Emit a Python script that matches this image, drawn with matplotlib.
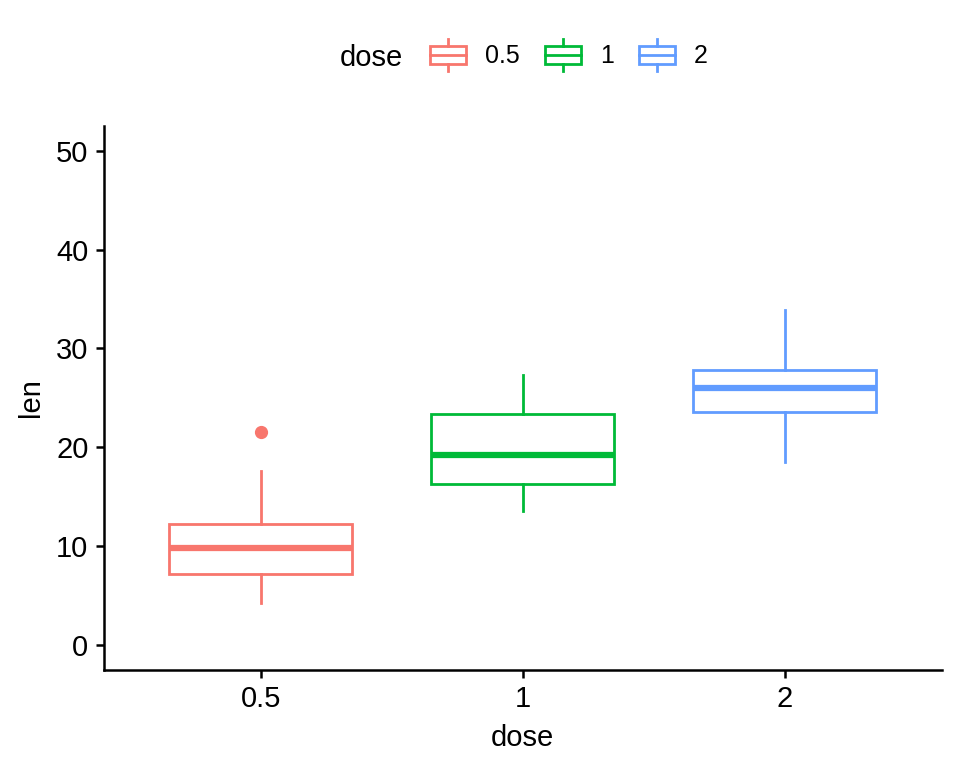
import numpy as np
import matplotlib
matplotlib.use("Agg")
import matplotlib.pyplot as plt
from matplotlib.legend_handler import HandlerBase
from matplotlib.patches import Rectangle
from matplotlib.lines import Line2D

plt.rcParams['font.family'] = ['Liberation Sans', 'DejaVu Sans']

# ToothGrowth lengths grouped by dose
doses = ["0.5", "1", "2"]
len_05 = [4.2, 11.5, 7.3, 5.8, 6.4, 10, 11.2, 11.2, 5.2, 7,
          15.2, 21.5, 17.6, 9.7, 14.5, 10, 8.2, 9.4, 16.5, 9.7]
len_1 = [16.5, 16.5, 15.2, 17.3, 22.5, 17.3, 13.6, 14.5, 18.8, 15.5,
         19.7, 23.3, 23.6, 26.4, 20, 25.2, 25.8, 21.2, 14.5, 27.3]
len_2 = [23.6, 18.5, 33.9, 25.5, 26.4, 32.5, 26.7, 21.5, 23.3, 29.5,
         25.5, 26.4, 22.4, 24.5, 24.8, 30.9, 26.4, 27.3, 29.4, 23]
groups = [len_05, len_1, len_2]
colors = ["#F8766D", "#00BA38", "#619CFF"]
y_ticks = [0, 10, 20, 30, 40, 50]

LW = 2.0


class BoxKeyHandler(HandlerBase):
    """Draws a small boxplot glyph as legend key."""
    def __init__(self, color):
        super().__init__()
        self.color = color

    def create_artists(self, legend, orig_handle, xdescent, ydescent,
                       width, height, fontsize, trans):
        c = self.color
        x0, y0 = -xdescent, -ydescent
        box = Rectangle((x0, y0 + height * 0.22), width, height * 0.56,
                        facecolor="white", edgecolor=c, lw=LW, transform=trans)
        mid = Line2D([x0, x0 + width], [y0 + height * 0.5] * 2, color=c, lw=LW, transform=trans)
        top = Line2D([x0 + width / 2] * 2, [y0 + height * 0.78, y0 + height], color=c, lw=LW, transform=trans)
        bot = Line2D([x0 + width / 2] * 2, [y0, y0 + height * 0.22], color=c, lw=LW, transform=trans)
        return [box, mid, top, bot]


fig = plt.figure(figsize=(9.6, 7.68), dpi=100)
ax = fig.add_axes([0.108, 0.128, 0.873, 0.708])

pos = np.arange(1, len(groups) + 1)
for i, (vals, c) in enumerate(zip(groups, colors)):
    ax.boxplot([vals], positions=[pos[i]], widths=0.7, whis=1.5,
               patch_artist=True,
               boxprops=dict(facecolor="white", edgecolor=c, lw=LW),
               medianprops=dict(color=c, lw=4.5, solid_capstyle="butt"),
               whiskerprops=dict(color=c, lw=LW),
               capprops=dict(visible=False),
               flierprops=dict(marker="o", markerfacecolor=c, markeredgecolor=c,
                               markersize=8.5),
               zorder=3)

ax.set_xlim(0.4, 3.6)
ax.set_ylim(-2.5, 52.5)
ax.set_xticks(pos)
ax.set_xticklabels(doses)
ax.set_yticks(y_ticks)
ax.tick_params(labelsize=21, width=1.8, length=6, color="black", pad=5)
ax.set_xlabel("dose", fontsize=21, labelpad=8)
ax.set_ylabel("len", fontsize=21, labelpad=8)
for side in ["top", "right"]:
    ax.spines[side].set_visible(False)
for side in ["left", "bottom"]:
    ax.spines[side].set_linewidth(1.8)

# legend on top, title inline
fig.text(0.354, 0.925, "dose", fontsize=21, ha="left", va="center")
handles = [Rectangle((0, 0), 1, 1) for _ in doses]
leg = fig.legend(handles, doses, loc="center left", bbox_to_anchor=(0.448, 0.928),
                 ncol=3, frameon=False, fontsize=18,
                 handler_map={h: BoxKeyHandler(c) for h, c in zip(handles, colors)},
                 handlelength=1.45, handleheight=1.6, handletextpad=0.75,
                 columnspacing=1.0, borderaxespad=0, borderpad=0)

fig.savefig("out.png", dpi=100)
